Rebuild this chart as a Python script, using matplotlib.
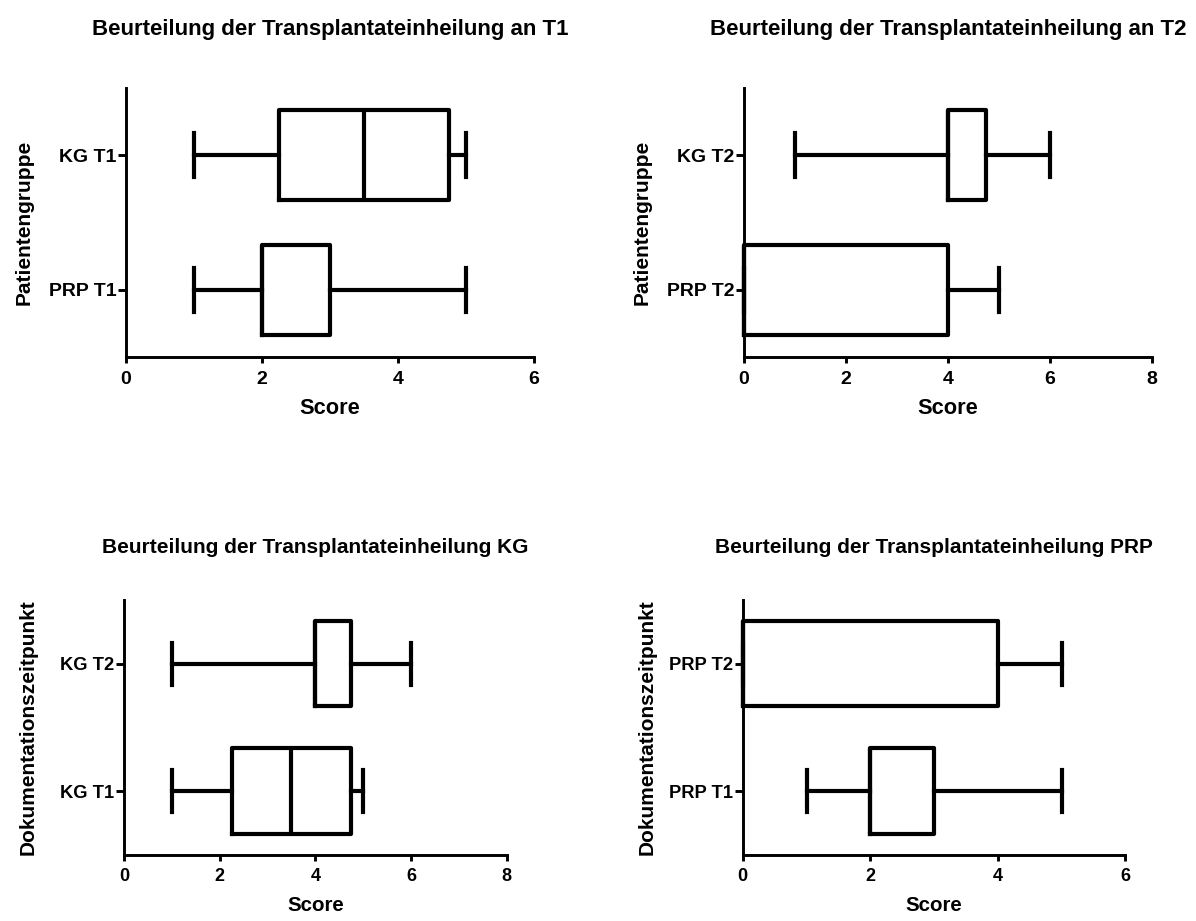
import matplotlib
matplotlib.use("Agg")
import matplotlib.pyplot as plt

# five-number summaries: min, q1, median, q3, max
kg_t1 = [1, 2.25, 3.5, 4.75, 5]
kg_t2 = [1, 4, 4, 4.75, 6]
prp_t1 = [1, 2, 2, 3, 5]
prp_t2 = [0, 0, 0, 4, 5]

titles = ["Beurteilung der Transplantateinheilung an T1",
          "Beurteilung der Transplantateinheilung an T2",
          "Beurteilung der Transplantateinheilung KG",
          "Beurteilung der Transplantateinheilung PRP"]
ylabels = ["Patientengruppe", "Patientengruppe",
           "Dokumentationszeitpunkt", "Dokumentationszeitpunkt"]
# bottom box first, top box second
panel_data = [[prp_t1, kg_t1], [prp_t2, kg_t2], [kg_t1, kg_t2], [prp_t1, prp_t2]]
panel_labels = [["PRP T1", "KG T1"], ["PRP T2", "KG T2"],
                ["KG T1", "KG T2"], ["PRP T1", "PRP T2"]]
xmax = [6, 8, 8, 6]

plt.rcParams['font.family'] = ['Liberation Sans', 'DejaVu Sans']
plt.rcParams['font.weight'] = 'bold'

fig = plt.figure(figsize=(11.96, 9.21), dpi=100)
rects = [[0.1054, 0.6124, 0.341, 0.292],
         [0.622, 0.6124, 0.341, 0.292],
         [0.1037, 0.0717, 0.320, 0.277],
         [0.621, 0.0717, 0.320, 0.277]]

for i in range(4):
    top = i < 2
    ax = fig.add_axes(rects[i])
    stats = []
    for d, lab in zip(panel_data[i], panel_labels[i]):
        stats.append({"whislo": d[0], "q1": d[1], "med": d[2], "q3": d[3],
                      "whishi": d[4], "label": lab, "fliers": []})
    lw = 3.0
    parts = ax.bxp(stats, positions=[1, 2], widths=0.67, capwidths=0.33,
                   orientation='horizontal', showfliers=False,
                   boxprops=dict(color="black", linewidth=lw),
                   whiskerprops=dict(color="black", linewidth=lw),
                   capprops=dict(color="black", linewidth=lw),
                   medianprops=dict(color="black", linewidth=lw))
    for key in ['boxes', 'whiskers', 'caps', 'medians']:
        for art in parts[key]:
            art.set_clip_on(False)   # box edge at 0 sits on the spine
    ax.set_xlim(0, xmax[i])
    ax.set_xticks(range(0, xmax[i] + 1, 2))
    ax.set_ylim(0.5, 2.5)
    for s in ['top', 'right']:
        ax.spines[s].set_visible(False)
    for s in ['bottom', 'left']:
        ax.spines[s].set_linewidth(2.1)
    if top:
        ax.tick_params(axis='x', length=4.5, width=2.1, pad=5.3, labelsize=14)
        ax.tick_params(axis='y', length=5.8, width=2.1, pad=1, labelsize=14)
        ax.set_xlabel("Score", fontweight='bold', fontsize=15.7, labelpad=7.8)
        ax.set_title(titles[i], fontweight='bold', fontsize=16, pad=38)
    else:
        ax.tick_params(axis='x', length=4.5, width=2.1, pad=5, labelsize=13)
        ax.tick_params(axis='y', length=5.8, width=2.1, pad=1, labelsize=13.2)
        ax.set_xlabel("Score", fontweight='bold', fontsize=14.8, labelpad=7.5)
        ax.set_title(titles[i], fontweight='bold', fontsize=15, pad=34)
    ax.set_ylabel(ylabels[i], fontweight='bold', fontsize=15)
    ax.yaxis.set_label_coords(-0.226, 0.5)
    for t in ax.get_xticklabels() + ax.get_yticklabels():
        t.set_fontweight('bold')

fig.savefig("out.png", dpi=100)
